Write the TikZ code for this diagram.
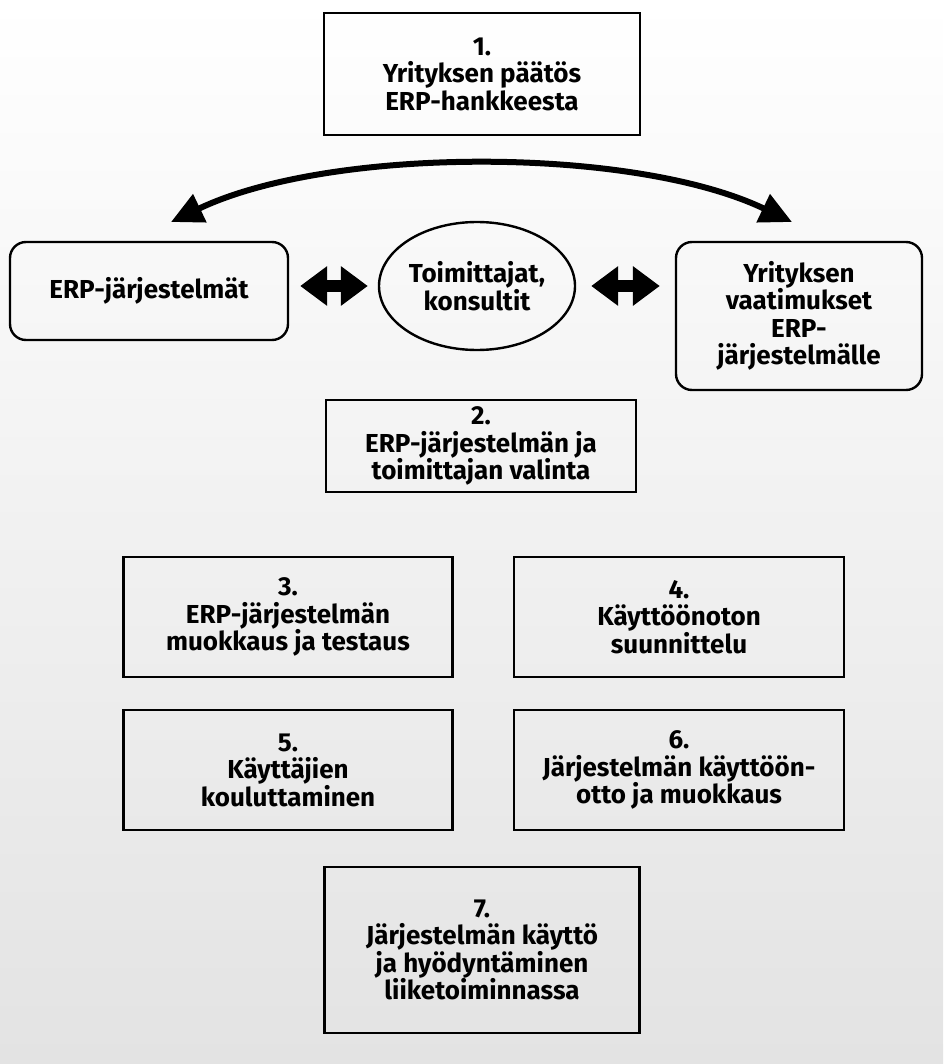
\documentclass[tikz,border=0pt]{standalone}
\usepackage{fontspec}
\setmainfont{Fira Sans}
\usetikzlibrary{arrows.meta,shapes.geometric}
\tikzset{
  txt/.style={font=\fontsize{26}{27.5}\selectfont\bfseries, align=center, text=black},
  sqbox/.style={txt, draw=black, line width=2.6pt, inner sep=0pt},
  rbox/.style={sqbox, rounded corners=16pt, line width=2.4pt},
  fatarrow/.style={line width=12pt, {Triangle[length=27pt,width=38pt]}-{Triangle[length=27pt,width=38pt]}},
  arcarrow/.style={line width=6pt, {Triangle[length=32pt,width=30pt]}-{Triangle[length=32pt,width=30pt]}}
}
\begin{document}
\begin{tikzpicture}[x=1pt,y=-1pt]
\shade[top color=white, bottom color=black!11] (0,0) rectangle (943,1064);
\useasboundingbox (0,0) rectangle (943,1064);

\node[sqbox, minimum width=316pt, minimum height=122pt] (b1) at (482,74) {1.\\Yrityksen päätös\\ERP-hankkeesta};
\node[rbox, minimum width=278pt, minimum height=98pt] (lb) at (149,291) {ERP-järjestelmät};
\node[txt, draw=black, line width=2.4pt, ellipse, inner sep=0pt, minimum width=196pt, minimum height=128pt] (ell) at (477,286) {Toimittajat,\\konsultit};
\node[rbox, minimum width=246pt, minimum height=148pt] (rb) at (799,316) {Yrityksen\\vaatimukset\\ERP-\\järjestelmälle};
\node[sqbox, minimum width=310pt, minimum height=92pt] (b2) at (481,446) {2.\\ERP-järjestelmän ja\\toimittajan valinta};
\node[sqbox, minimum width=329pt, minimum height=120pt] (b3) at (288,617) {3.\\ERP-järjestelmän\\muokkaus ja testaus};
\node[sqbox, minimum width=330pt, minimum height=120pt] (b4) at (679,617) {4.\\Käyttöönoton\\suunnittelu};
\node[sqbox, minimum width=329pt, minimum height=120pt] (b5) at (288,770) {5.\\Käyttäjien\\kouluttaminen};
\node[sqbox, minimum width=330pt, minimum height=120pt] (b6) at (679,770) {6.\\Järjestelmän käyttöön-\\otto ja muokkaus};
\node[sqbox, minimum width=315pt, minimum height=166pt] (b7) at (482,950) {7.\\Järjestelmän käyttö\\ja hyödyntäminen\\liiketoiminnassa};

\draw[fatarrow, shorten <=11pt, shorten >=10pt] (lb.east |- ell.center) -- (ell.west);
\draw[fatarrow, shorten <=15pt, shorten >=15pt] (ell.east) -- (rb.west |- ell.center);

\coordinate (al) at (171,222);
\coordinate (ar) at (792,222);
\draw[arcarrow] (al) .. controls (330,146) and (633,146) .. (ar);
\end{tikzpicture}
\end{document}
